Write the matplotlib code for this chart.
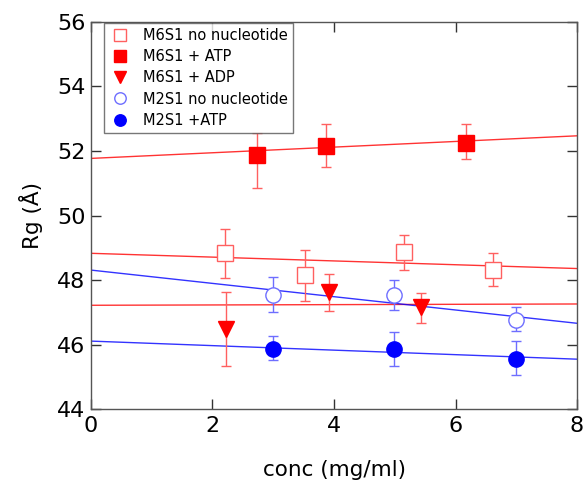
import matplotlib
matplotlib.use("Agg")
import matplotlib.pyplot as plt
import numpy as np

# M6S1 no nucleotide
m6_nn_x = [2.20, 3.52, 5.16, 6.62]
m6_nn_y = [48.83, 48.16, 48.86, 48.32]
m6_nn_lo = [0.75, 0.80, 0.56, 0.50]
m6_nn_hi = [0.74, 0.77, 0.54, 0.51]
# M6S1 + ATP
m6_atp_x = [2.73, 3.87, 6.18]
m6_atp_y = [51.87, 52.15, 52.24]
m6_atp_lo = [1.03, 0.65, 0.49]
m6_atp_hi = [0.68, 0.68, 0.59]
# M6S1 + ADP
m6_adp_x = [2.23, 3.91, 5.43]
m6_adp_y = [46.50, 47.64, 47.17]
m6_adp_lo = [1.16, 0.59, 0.49]
m6_adp_hi = [1.12, 0.55, 0.42]
# M2S1 no nucleotide
m2_nn_x = [3.00, 4.99, 6.99]
m2_nn_y = [47.53, 47.53, 46.76]
m2_nn_lo = [0.53, 0.46, 0.34]
m2_nn_hi = [0.57, 0.47, 0.41]
# M2S1 + ATP
m2_atp_x = [3.00, 4.99, 6.99]
m2_atp_y = [45.88, 45.86, 45.57]
m2_atp_lo = [0.37, 0.52, 0.50]
m2_atp_hi = [0.39, 0.52, 0.53]

# linear fit lines: intercept, slope
fit_m6_nn = (48.83, -0.059)
fit_m6_atp = (51.77, 0.0875)
fit_m6_adp = (47.22, 0.005)
fit_m2_nn = (48.31, -0.206)
fit_m2_atp = (46.11, -0.070)

RED = "#ff0000"
LRED = "#ff6060"
BLUE = "#0000ff"
LBLUE = "#6e6eff"

fig = plt.figure(figsize=(5.87, 4.86), dpi=100)
ax = fig.add_axes([0.155, 0.158, 0.828, 0.797])

xx = np.array([0, 8])
for (a, b), c in [(fit_m6_atp, RED), (fit_m6_nn, RED), (fit_m6_adp, RED),
                  (fit_m2_nn, BLUE), (fit_m2_atp, BLUE)]:
    ax.plot(xx, a + b * xx, color=c, lw=1.0, alpha=0.8, zorder=2)

def series(x, y, lo, hi, marker, ms, mfc, mec, ecol, label):
    ax.errorbar(x, y, yerr=[lo, hi], fmt='none', ecolor=ecol, elinewidth=1.0,
                capsize=3.5, capthick=1.0, zorder=3)
    ax.plot(x, y, linestyle='none', marker=marker, ms=ms, mfc=mfc, mec=mec,
            mew=1.0, zorder=4, label=label)

series(m6_nn_x, m6_nn_y, m6_nn_lo, m6_nn_hi, 's', 11, 'white', LRED, LRED, 'M6S1 no nucleotide')
series(m6_atp_x, m6_atp_y, m6_atp_lo, m6_atp_hi, 's', 12, RED, RED, LRED, 'M6S1 + ATP')
series(m6_adp_x, m6_adp_y, m6_adp_lo, m6_adp_hi, 'v', 12, RED, RED, LRED, 'M6S1 + ADP')
series(m2_nn_x, m2_nn_y, m2_nn_lo, m2_nn_hi, 'o', 11, 'white', LBLUE, LBLUE, 'M2S1 no nucleotide')
series(m2_atp_x, m2_atp_y, m2_atp_lo, m2_atp_hi, 'o', 11, BLUE, BLUE, LBLUE, 'M2S1 +ATP')

ax.set_xlim(0, 8)
ax.set_ylim(44, 56)
ax.set_xticks([0, 2, 4, 6, 8])
ax.set_yticks([44, 46, 48, 50, 52, 54, 56])
ax.tick_params(direction='in', length=7, width=1, top=True, right=True,
               labelsize=16, colors='#333333', labelcolor='black')
ax.tick_params(axis='x', pad=5)
ax.tick_params(axis='y', pad=4)
for s in ax.spines.values():
    s.set_color('#555555')
    s.set_linewidth(1.0)
ax.set_xlabel('conc (mg/ml)', fontsize=15.5, labelpad=17)
ax.set_ylabel('Rg (Å)', fontsize=15.5, labelpad=10)

leg = ax.legend(loc='upper left', bbox_to_anchor=(0.027, 0.997), fontsize=10.5,
                frameon=True, fancybox=False, edgecolor='#555555',
                borderaxespad=0.0, borderpad=0.35, labelspacing=0.42,
                handletextpad=0.8, handlelength=1.5, markerscale=0.75)
leg.get_frame().set_linewidth(1.0)

fig.savefig('out.png', dpi=100)
